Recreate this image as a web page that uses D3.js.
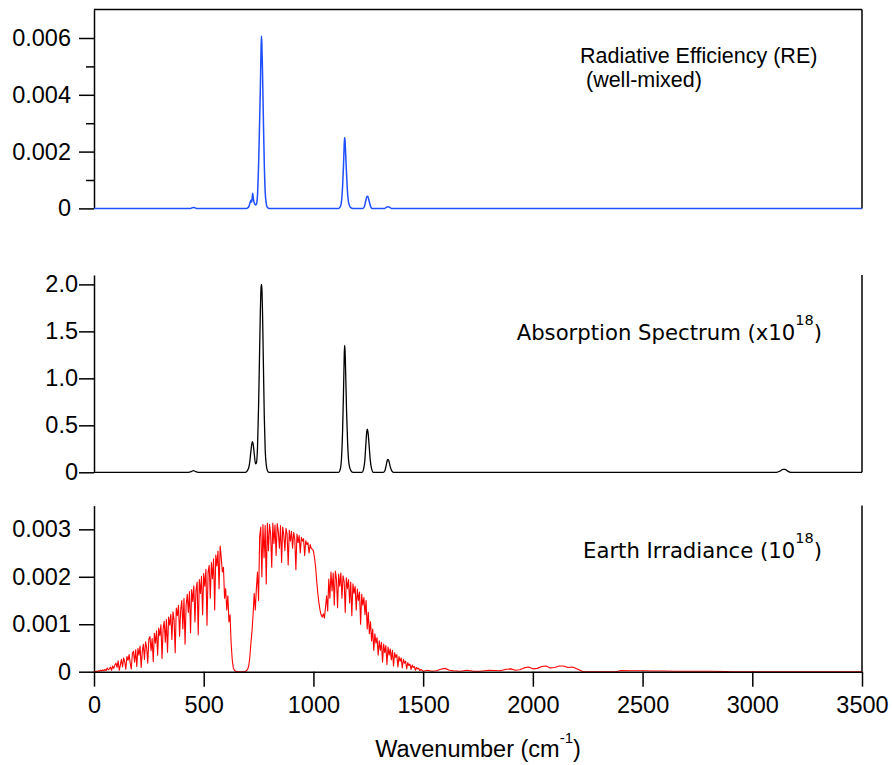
<!DOCTYPE html>
<html>
<head>
<meta charset="utf-8">
<script src="https://cdn.jsdelivr.net/npm/d3@7"></script>
<style>
  body { margin: 0; background: #fff; }
  text { font-family: "Liberation Sans", Arial, sans-serif; fill: #000; }
  .title { font-family: "DejaVu Sans", sans-serif; }
</style>
</head>
<body>
<svg id="chart" width="892" height="765"></svg>
<script>
// radiative efficiency (blue, top panel)
var reWavenumber = [0, 440, 447, 453, 460, 467, 695, 705, 712, 716, 719, 723, 727, 733, 738, 742, 746, 750, 754, 758, 761, 763, 765, 768, 772, 776, 780, 785, 790, 797,
  1115, 1122, 1128, 1133, 1137, 1140, 1142, 1144, 1147, 1151, 1156, 1162, 1170, 1180,
  1225, 1232, 1238, 1243, 1246, 1249, 1254, 1260, 1267, 1325, 1333, 1340, 1347, 1355, 3500];
var reValue = [0, 0, 0.00002, 0.00003, 0.00002, 0, 0, 0.00005, 0.00022, 0.0003, 0.00022, 0.00053, 0.0003, 0.00015, 0.00012, 0.0002, 0.0006, 0.0015, 0.0028, 0.0042, 0.0055, 0.00607, 0.0058, 0.0048, 0.0031, 0.0016, 0.0006, 0.00018, 0.00004, 0,
  0, 0.00005, 0.00025, 0.0008, 0.0015, 0.0022, 0.0025, 0.0024, 0.0019, 0.0012, 0.0005, 0.00015, 0.00003, 0,
  0, 0.00006, 0.00025, 0.0004, 0.00043, 0.0004, 0.00025, 0.00008, 0, 0, 0.00004, 0.00006, 0.00004, 0, 0];

// absorption spectrum (black, middle panel, x10^18)
var absWavenumber = [0, 430, 445, 453, 461, 475, 690, 700, 708, 714, 719, 722, 726, 731, 736, 740, 745, 750, 754, 758, 761, 763, 765, 768, 772, 776, 780, 785, 790, 797,
  1115, 1122, 1128, 1133, 1137, 1140, 1142, 1144, 1147, 1151, 1156, 1162, 1170, 1180,
  1222, 1228, 1234, 1239, 1243, 1246, 1249, 1254, 1259, 1265, 1273,
  1318, 1326, 1332, 1337, 1340, 1344, 1350, 1357, 1365,
  3110, 3125, 3140, 3150, 3160, 3175, 3500];
var absValue = [0, 0, 0.01, 0.018, 0.01, 0, 0, 0.02, 0.08, 0.2, 0.3, 0.325, 0.29, 0.18, 0.09, 0.1, 0.25, 0.7, 1.2, 1.7, 1.95, 2.0, 1.96, 1.7, 1.15, 0.6, 0.25, 0.08, 0.02, 0,
  0, 0.03, 0.15, 0.45, 0.85, 1.2, 1.35, 1.3, 1.05, 0.65, 0.3, 0.09, 0.02, 0,
  0, 0.03, 0.12, 0.3, 0.43, 0.46, 0.42, 0.28, 0.13, 0.04, 0,
  0, 0.02, 0.08, 0.13, 0.138, 0.12, 0.06, 0.015, 0,
  0, 0.012, 0.03, 0.032, 0.015, 0, 0];

// earth irradiance (red, bottom panel), units of 1e-4, every 5 cm-1 from 0 to 1500
var irrStep = 5;
var irrValue = [
  0, 0.05, 0.1, 0.05, 0.2, 0.1, 0.3, 0.15, 0.4, 0.2,
  0.5, 0.2, 0.8, 0.4, 0.6, 1.0, 0.3, 1.2, 0.7, 1.4,
  1.8, 0.9, 2.3, 0.3, 1.4, 2.6, 1.0, 2.9, 2.1, 0.5,
  3.2, 2.4, 3.6, 1.8, 0.6, 3.9, 4.3, 2.0, 4.6, 1.1,
  4.9, 3.5, 5.4, 0.9, 4.2, 5.8, 2.6, 6.3, 5.1, 1.8,
  6.9, 7.4, 4.4, 7.0, 2.1, 8.1, 6.0, 8.6, 3.5, 9.2,
  7.6, 9.9, 2.8, 9.0, 10.6, 6.2, 11.0, 4.1, 11.5, 9.8,
  12.1, 6.8, 12.6, 10.9, 4.0, 13.4, 11.8, 14.0, 7.5, 13.0,
  15.0, 9.0, 15.4, 5.8, 14.2, 16.3, 12.5, 16.9, 8.2, 17.3,
  14.8, 18.1, 10.5, 17.2, 18.9, 7.8, 19.4, 16.5, 20.1, 12.0,
  20.7, 18.0, 21.6, 9.8, 21.0, 22.4, 15.5, 23.0, 19.6, 23.8,
  13.0, 24.6, 22.3, 25.4, 17.5, 26.5, 24.0, 21.0, 22.0, 15.5,
  17.5, 13.0, 16.0, 10.5, 12.0, 6.0, 2.5, 0.8, 0.3, 0.1,
  0.05, 0.02, 0, 0, 0, 0, 0, 0, 0.05, 0.2,
  0.5, 1.2, 3.0, 6.0, 8.5, 12.0, 16.5, 13.0, 17.5, 21.0,
  15.0, 28.5, 30.5, 20.0, 31.0, 24.0, 30.8, 18.5, 31.3, 25.5,
  31.0, 29.0, 22.0, 31.3, 27.0, 30.9, 24.5, 31.2, 29.5, 26.0,
  30.8, 23.0, 30.5, 28.8, 25.5, 30.2, 29.0, 22.5, 29.8, 27.5,
  29.6, 26.0, 29.3, 28.0, 21.5, 29.0, 27.2, 28.7, 25.0, 28.3,
  27.5, 28.0, 24.5, 27.6, 26.8, 27.2, 25.0, 26.8, 26.0, 25.8,
  25.5, 24.0, 22.0, 19.0, 16.5, 14.5, 13.0, 12.0, 11.5, 12.2,
  11.3, 13.5, 16.0, 12.8, 19.5, 15.5, 21.0, 17.0, 20.8, 14.0,
  21.2, 19.5, 13.5, 20.6, 18.0, 20.8, 15.5, 20.2, 19.0, 12.5,
  19.8, 17.5, 19.4, 14.5, 18.9, 11.8, 18.5, 16.5, 18.0, 13.0,
  17.4, 15.0, 16.8, 10.0, 16.3, 14.0, 15.6, 12.0, 15.0, 9.0,
  12.5, 8.0, 10.5, 6.5, 9.0, 4.5, 8.0, 6.0, 7.2, 3.5,
  6.5, 4.5, 6.2, 2.0, 5.8, 4.0, 5.5, 1.5, 5.2, 3.5,
  4.8, 2.5, 4.5, 1.2, 4.0, 3.0, 3.6, 1.0, 3.2, 2.2,
  2.9, 0.8, 2.6, 1.8, 2.2, 0.6, 1.9, 1.3, 1.6, 0.5,
  1.4, 0.9, 1.1, 0.3, 0.9, 0.6, 0.7, 0.2, 0.5, 0.3,
  0.1];
var irrTailWavenumber = [1520, 1540, 1560, 1580, 1600, 1620, 1640, 1670, 1700, 1730, 1760, 1800, 1850, 1880, 1900, 1920, 1940, 1960, 1980, 2000, 2020, 2040, 2060, 2080, 2100, 2120, 2140, 2160, 2180, 2200, 2230,
  2380, 2400, 2450, 2500, 2550, 2600, 2650, 2700, 2800, 2880, 2900, 3500];
var irrTailValue = [0.3, 0.1, 0.2, 0.5, 0.7, 0.3, 0.2, 0.1, 0.3, 0.1, 0.1, 0.3, 0.2, 0.5, 0.6, 0.3, 0.4, 0.8, 1.0, 0.6, 0.7, 1.1, 1.2, 0.8, 0.9, 1.2, 1.2, 0.9, 1.0, 0.6, 0,
  0, 0.25, 0.2, 0.2, 0.15, 0.15, 0.1, 0.1, 0.08, 0.05, 0, 0];

var xTicks = [0, 500, 1000, 1500, 2000, 2500, 3000, 3500];
var reTicks = [0, 0.002, 0.004, 0.006];
var reMinorTicks = [0.001, 0.003, 0.005];
var absTicks = [0, 0.5, 1, 1.5, 2];
var absTickLabels = ["0", "0.5", "1.0", "1.5", "2.0"];
var irrTicks = [0, 0.001, 0.002, 0.003];

var svg = d3.select("#chart");
var x = d3.scaleLinear().domain([0, 3500]).range([94, 862]);

function zip(xs, ys) {
  return xs.map(function (w, i) { return [w, ys[i]]; });
}

var reData = zip(reWavenumber, reValue);
var absData = zip(absWavenumber, absValue);
var irrData = irrValue.map(function (v, i) { return [i * irrStep, v * 1e-4]; })
  .concat(zip(irrTailWavenumber, irrTailValue.map(function (v) { return v * 1e-4; })));

function fmt(d) {
  return d === 0 ? "0" : String(d);
}

function drawPanel(opt) {
  var y = d3.scaleLinear().domain(opt.domain).range(opt.range);
  var g = svg.append("g");

  var left = d3.axisLeft(y)
    .tickValues(opt.ticks)
    .tickSize(15)
    .tickSizeOuter(0)
    .tickPadding(opt.pad)
    .tickFormat(opt.format);
  var ax = g.append("g")
    .attr("transform", "translate(" + x(0) + ",0)")
    .call(left);
  ax.selectAll("text").style("font-size", "23.5px");
  ax.selectAll("path, line").attr("stroke", "#000").attr("stroke-width", 1.5);

  if (opt.minor) {
    g.append("g")
      .attr("transform", "translate(" + x(0) + ",0)")
      .call(d3.axisLeft(y).tickValues(opt.minor).tickSize(8).tickFormat(""))
      .call(function (s) { s.select(".domain").remove(); })
      .selectAll("line").attr("stroke", "#000").attr("stroke-width", 1.5);
  }

  // right frame
  g.append("line")
    .attr("x1", x(3500)).attr("x2", x(3500))
    .attr("y1", y(opt.domain[1])).attr("y2", y(0))
    .attr("stroke", "#000").attr("stroke-width", 1.5);
  if (opt.topFrame) {
    g.append("line")
      .attr("x1", x(0)).attr("x2", x(3500))
      .attr("y1", y(opt.domain[1])).attr("y2", y(opt.domain[1]))
      .attr("stroke", "#000").attr("stroke-width", 1.5);
  }

  var line = d3.line()
    .x(function (d) { return x(d[0]); })
    .y(function (d) { return y(d[1]); })
    .curve(opt.curve);

  g.append("path")
    .datum(opt.data)
    .attr("fill", "none")
    .attr("stroke", opt.color)
    .attr("stroke-width", opt.width)
    .attr("stroke-linejoin", "round")
    .attr("d", line);

  return y;
}

drawPanel({
  domain: [0, 0.007], range: [208.4, 9.6],
  ticks: reTicks, minor: reMinorTicks, pad: 8, format: fmt,
  data: reData, color: "#1f4fff", width: 1.5, curve: d3.curveMonotoneX, topFrame: true
});

drawPanel({
  domain: [0, 2.1], range: [472.3, 275],
  ticks: absTicks, pad: 1,
  format: function (d, i) { return absTickLabels[i]; },
  data: absData, color: "#000", width: 1.3, curve: d3.curveMonotoneX
});

var yIrr = drawPanel({
  domain: [0, 0.0035], range: [671.7, 505.6],
  ticks: irrTicks, pad: 8, format: fmt,
  data: irrData, color: "#ff0000", width: 1.1, curve: d3.curveLinear
});

// bottom x axis
var xAxis = svg.append("g")
  .attr("transform", "translate(0," + yIrr(0) + ")")
  .call(d3.axisBottom(x).tickValues(xTicks).tickSize(15).tickSizeOuter(0).tickPadding(10).tickFormat(d3.format("d")));
xAxis.selectAll("text").style("font-size", "23.5px");
xAxis.selectAll("path, line").attr("stroke", "#000").attr("stroke-width", 1.5);

// x label
var xl = svg.append("text")
  .attr("x", 478).attr("y", 757)
  .attr("text-anchor", "middle")
  .style("font-size", "23.5px");
xl.append("tspan").text("Wavenumber (cm");
xl.append("tspan").attr("dy", -14).style("font-size", "15px").text("-1");
xl.append("tspan").attr("dy", 14).text(")");

// panel titles
svg.append("text").attr("x", 580).attr("y", 63).style("font-size", "21.5px").text("Radiative Efficiency (RE)");
svg.append("text").attr("x", 580).attr("y", 87).style("font-size", "21.5px").attr("xml:space", "preserve").text(" (well-mixed)");

function superTitle(label, yPos) {
  var t = svg.append("text").attr("class", "title")
    .attr("x", 822).attr("y", yPos)
    .attr("text-anchor", "end")
    .style("font-size", "21.2px");
  t.append("tspan").text(label);
  t.append("tspan").attr("dy", -15).style("font-size", "14.5px").text("18");
  t.append("tspan").attr("dy", 15).text(")");
}
superTitle("Absorption Spectrum (x10", 340);
superTitle("Earth Irradiance (10", 558);
</script>
</body>
</html>
